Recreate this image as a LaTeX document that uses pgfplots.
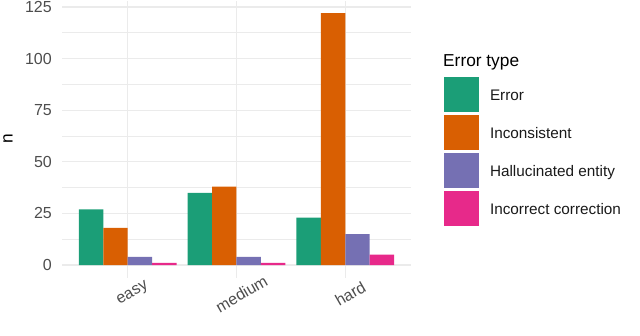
\documentclass[border=0pt]{standalone}
\usepackage{pgfplots}
\pgfplotsset{compat=1.18}
\usepackage{fontspec}
\setmainfont{Liberation Sans}
\definecolor{c1}{HTML}{1B9E77}
\definecolor{c2}{HTML}{D95F02}
\definecolor{c3}{HTML}{7570B3}
\definecolor{c4}{HTML}{E7298A}
\definecolor{gridc}{HTML}{EBEBEB}
\definecolor{tickc}{HTML}{4D4D4D}
\definecolor{txtc}{HTML}{1A1A1A}
\pgfplotsset{
  mybar/.style={ybar, bar width=0.225, draw=none, fill=#1,
    legend image code/.code={\fill[fill=#1, draw=none] (0bp,-15.5bp) rectangle (35bp,19.5bp);}},
}
\begin{document}
\begin{tikzpicture}
\useasboundingbox (-62.5bp,-58.4bp) rectangle (577.5bp,277.6bp);
\begin{axis}[
  at={(0,0)}, anchor=south west, scale only axis,
  width=348bp, height=277bp,
  xmin=0.4, xmax=3.6, ymin=-6.1, ymax=128.1,
  axis line style={draw=none},
  major tick length=0pt, minor tick length=0pt,
  xtick={1,2,3}, xticklabels={easy,medium,hard},
  ytick={0,25,50,75,100,125},
  minor ytick={12.5,37.5,62.5,87.5,112.5},
  xmajorgrids, ymajorgrids, yminorgrids,
  major grid style={draw=gridc, line width=1.3bp},
  minor grid style={draw=gridc, line width=0.7bp},
  /pgf/number format/assume math mode=true,
  yticklabel style={font=\fontsize{16bp}{16bp}\selectfont, text=tickc, anchor=east, inner sep=0pt, xshift=-10.5bp},
  xticklabel style={font=\fontsize{16bp}{16bp}\selectfont, text=tickc, inner sep=0pt, xshift=2bp, yshift=-11bp, rotate=30, anchor=north},
  ylabel={n},
  ylabel style={at={(axis description cs:-0.1566,0.5)}, anchor=center, inner sep=0pt, font=\fontsize{17.3bp}{17.3bp}\selectfont, text=black},
  legend style={at={(axis description cs:1.0963,0.7253)}, anchor=north west, draw=none, fill=none,
    inner sep=0pt, outer sep=0pt, row sep=3bp, column sep=11bp,
    nodes={inner sep=0pt, text=txtc}, font=\fontsize{15.3bp}{15.3bp}\selectfont},
  legend cell align=left,
]
\addplot[mybar=c1, bar shift=-0.3375] coordinates {(1,27) (2,35) (3,23)};
\addlegendentry{Error}
\addplot[mybar=c2, bar shift=-0.1125] coordinates {(1,18) (2,38) (3,122)};
\addlegendentry{Inconsistent}
\addplot[mybar=c3, bar shift=0.1125] coordinates {(1,4) (2,4) (3,15)};
\addlegendentry{Hallucinated entity}
\addplot[mybar=c4, bar shift=0.3375] coordinates {(1,1) (2,1) (3,5)};
\addlegendentry{Incorrect correction}
\end{axis}
\node[anchor=base west, inner sep=0pt, font=\fontsize{17.3bp}{17.3bp}\selectfont, text=black] at (380.5bp,210.6bp) {Error type};
\end{tikzpicture}
\end{document}
